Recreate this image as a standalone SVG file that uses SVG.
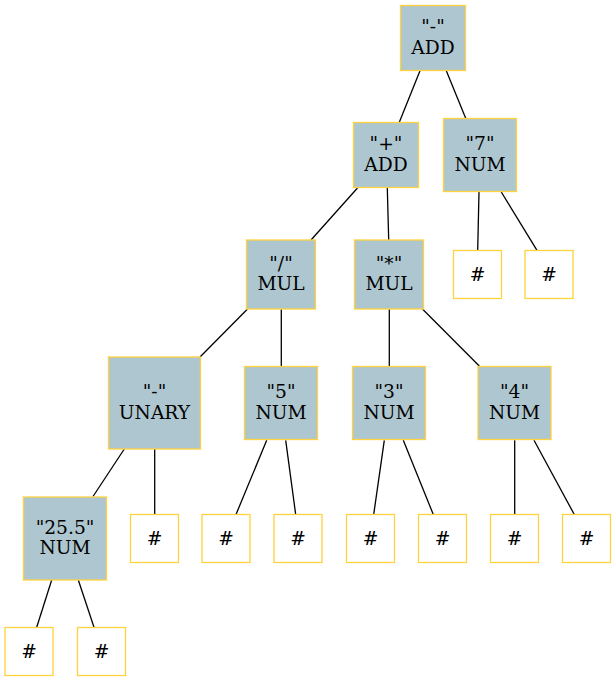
<svg xmlns="http://www.w3.org/2000/svg" width="616" height="681" viewBox="0 0 616 681">
  <style>
    .op rect { fill: #aec6cf; stroke: #ffd23f; stroke-width: 1.3; }
    .nil rect { fill: #ffffff; stroke: #ffd23f; stroke-width: 1.3; }
    text { font-family: "DejaVu Serif", "Liberation Serif", serif; font-size: 18.67px; fill: #000000; text-anchor: middle; }
    #edges line { stroke: #000000; stroke-width: 1.3; }
  </style>
  <rect width="616" height="681" fill="#ffffff"/>

  <!-- tree edges -->
  <g id="edges">
    <line x1="420" y1="70.7" x2="399.3" y2="122.3"/>
    <line x1="446.3" y1="70.7" x2="465.7" y2="118.3"/>
    <line x1="357.5" y1="188" x2="311" y2="240"/>
    <line x1="387.3" y1="188" x2="388.7" y2="240"/>
    <line x1="479" y1="192" x2="477.7" y2="250.3"/>
    <line x1="501.3" y1="192" x2="537" y2="250.3"/>
    <line x1="247.3" y1="309.3" x2="200" y2="357"/>
    <line x1="281.3" y1="309.3" x2="281.3" y2="366"/>
    <line x1="389.3" y1="309.3" x2="389.3" y2="366"/>
    <line x1="422.7" y1="309.3" x2="479.3" y2="366"/>
    <line x1="124.3" y1="449" x2="93" y2="496.5"/>
    <line x1="154.7" y1="449" x2="154.7" y2="514.5"/>
    <line x1="266.7" y1="440.3" x2="236" y2="514.5"/>
    <line x1="285.7" y1="440.3" x2="295.7" y2="514.5"/>
    <line x1="384.3" y1="440.3" x2="373.7" y2="514.5"/>
    <line x1="403.3" y1="440.3" x2="433.3" y2="514.5"/>
    <line x1="514.7" y1="440.3" x2="514.7" y2="514.5"/>
    <line x1="534" y1="440.3" x2="574.3" y2="514.5"/>
    <line x1="51.7" y1="580" x2="36.7" y2="627.3"/>
    <line x1="78.3" y1="580" x2="94" y2="627.3"/>
  </g>

  <!-- operator / value nodes -->
  <g id="n0" class="op"><rect x="400.5" y="5.5" width="65" height="65"/><text x="433" y="33">"-"</text><text x="433" y="53.5">ADD</text></g>
  <g id="n1" class="op"><rect x="353.5" y="122.5" width="65" height="65"/><text x="386" y="150">"+"</text><text x="386" y="170.5">ADD</text></g>
  <g id="n2" class="op"><rect x="443.5" y="118.5" width="73" height="73"/><text x="480" y="150">"7"</text><text x="480" y="170.5">NUM</text></g>
  <g id="n3" class="op"><rect x="246.5" y="240" width="69" height="69"/><text x="281" y="269.5">"/"</text><text x="281" y="290">MUL</text></g>
  <g id="n4" class="op"><rect x="354.5" y="240" width="69" height="69"/><text x="389" y="269.5">"*"</text><text x="389" y="290">MUL</text></g>
  <g id="n7" class="op"><rect x="108.5" y="357" width="92" height="92"/><text x="154.5" y="398">"-"</text><text x="154.5" y="418.5">UNARY</text></g>
  <g id="n8" class="op"><rect x="244.5" y="366.5" width="73" height="73"/><text x="281" y="398">"5"</text><text x="281" y="418.5">NUM</text></g>
  <g id="n9" class="op"><rect x="352.5" y="366.5" width="73" height="73"/><text x="389" y="398">"3"</text><text x="389" y="418.5">NUM</text></g>
  <g id="n10" class="op"><rect x="478" y="366.5" width="73" height="73"/><text x="514.5" y="398">"4"</text><text x="514.5" y="418.5">NUM</text></g>
  <g id="n11" class="op"><rect x="23.5" y="497" width="83" height="83"/><text x="65" y="533.5">"25.5"</text><text x="65" y="554">NUM</text></g>

  <!-- empty leaves -->
  <g id="n5" class="nil"><rect x="453.5" y="250.5" width="48" height="48"/><text x="477.5" y="281">#</text></g>
  <g id="n6" class="nil"><rect x="525" y="250.5" width="48" height="48"/><text x="549" y="281">#</text></g>
  <g id="n12" class="nil"><rect x="130.5" y="514.5" width="48" height="48"/><text x="154.5" y="545">#</text></g>
  <g id="n13" class="nil"><rect x="202" y="514.5" width="48" height="48"/><text x="226" y="545">#</text></g>
  <g id="n14" class="nil"><rect x="274" y="514.5" width="48" height="48"/><text x="298" y="545">#</text></g>
  <g id="n15" class="nil"><rect x="346.5" y="514.5" width="48" height="48"/><text x="370.5" y="545">#</text></g>
  <g id="n16" class="nil"><rect x="418.5" y="514.5" width="48" height="48"/><text x="442.5" y="545">#</text></g>
  <g id="n17" class="nil"><rect x="490.5" y="514.5" width="48" height="48"/><text x="514.5" y="545">#</text></g>
  <g id="n18" class="nil"><rect x="562.5" y="514.5" width="48" height="48"/><text x="586.5" y="545">#</text></g>
  <g id="n19" class="nil"><rect x="5" y="627.5" width="48" height="48"/><text x="29" y="658">#</text></g>
  <g id="n20" class="nil"><rect x="77.5" y="627.5" width="48" height="48"/><text x="101.5" y="658">#</text></g>
</svg>
